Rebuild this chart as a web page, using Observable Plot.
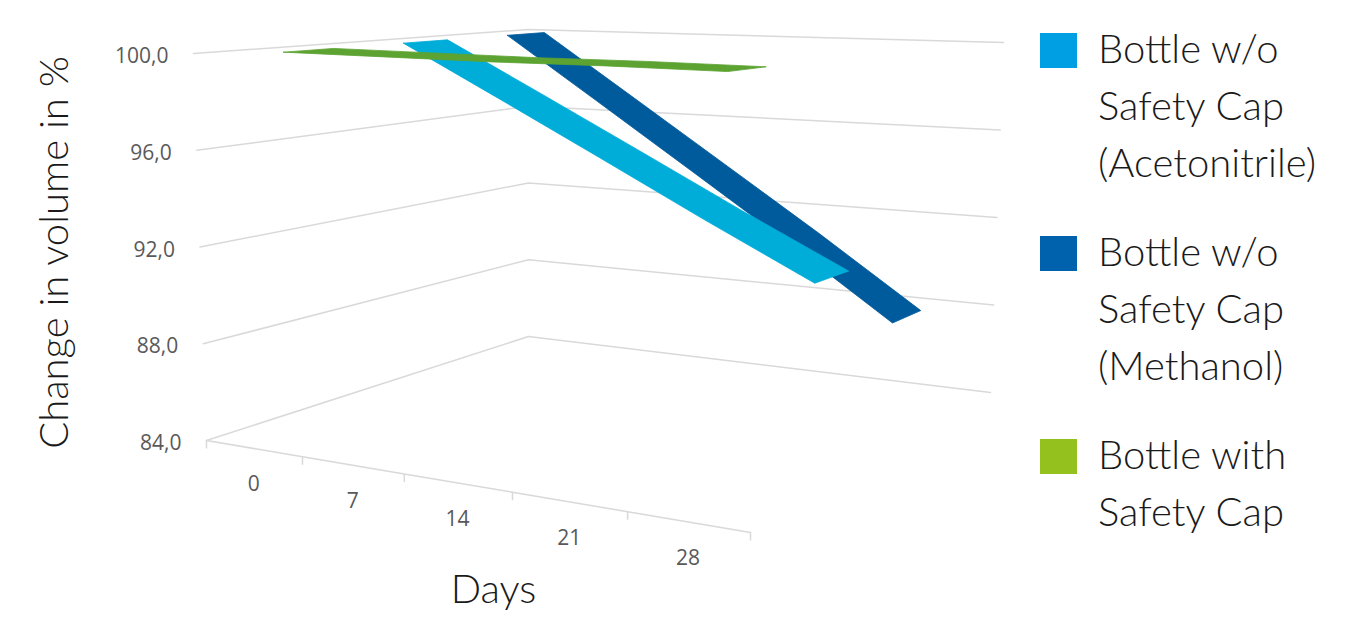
<!DOCTYPE html>
<html>
<head>
<meta charset="utf-8">
<script src="https://cdn.jsdelivr.net/npm/d3@7"></script>
<script src="https://cdn.jsdelivr.net/npm/@observablehq/plot@0.6"></script>
<style>
  html, body { margin: 0; padding: 0; background: #fff; }
  #wrap { position: relative; width: 1365px; height: 634px; overflow: hidden; }
  #chart { position: absolute; left: 0; top: 0; }
  #legend { position: absolute; left: 1040px; top: 20px; font-family: Lato, "Open Sans", sans-serif; font-weight: 300; color: #1a1a1a; }
  .item { display: flex; align-items: flex-start; margin-bottom: 32px; }
  .sw { width: 37px; height: 35px; margin-top: 13px; margin-right: 21px; flex: none; }
  .lbl { font-size: 40px; line-height: 57px; white-space: nowrap; }
</style>
</head>
<body>
<div id="wrap">
  <div id="chart"></div>
  <div id="legend"></div>
</div>
<script>
// ---- data ----
const days = [0, 7, 14, 21, 28];
const seriesNames = [
  "Bottle w/o Safety Cap (Acetonitrile)",
  "Bottle w/o Safety Cap (Methanol)",
  "Bottle with Safety Cap"
];
const acetonitrile = [100.0, 97.7, 95.4, 93.1, 90.9];
const methanol = [100.0, 97.0, 94.0, 91.0, 87.9];
const withCap = [100.0, 99.95, 99.9, 99.9, 99.85];
const yTicks = [84, 88, 92, 96, 100];
const legendLines = [
  ["Bottle w/o", "Safety Cap", "(Acetonitrile)"],
  ["Bottle w/o", "Safety Cap", "(Methanol)"],
  ["Bottle with", "Safety Cap"]
];
const ribbonColors = ["#00acd8", "#005b9c", "#5ca332"];
const legendColors = ["#009fe3", "#0062ad", "#95c11f"];

// ---- 3D frame (projection of the Excel-style 3D box) ----
const W = 1020, H = 634;
const vMin = 84, vMax = 100;
const box = {
  c000: [206, 440], c100: [750, 532], c010: [528, 336], c110: [990, 392],
  c001: [193, 53],  c101: [761, 73],  c011: [528, 29],  c111: [1003, 42]
};
const K = 0.857; // perspective foreshortening along category axis
const depthSlots = [[0.491, 0.626], [0.809, 0.922], [0.124, 0.277]]; // acetonitrile, methanol, with cap

const lerp = (a, b, s) => [a[0] + (b[0] - a[0]) * s, a[1] + (b[1] - a[1]) * s];
function proj(t, w, h) {
  const f0 = lerp(lerp(box.c000, box.c100, t), lerp(box.c010, box.c110, t), w);
  const f1 = lerp(lerp(box.c001, box.c101, t), lerp(box.c011, box.c111, t), w);
  return lerp(f0, f1, h);
}
const warp = u => (u * K) / (1 + (K - 1) * u);
const hOf = v => (v - vMin) / (vMax - vMin);
const n = days.length;
const catT = i => warp((i + 0.5) / n);
const edgeT = i => warp(i / n);

// gridlines: left wall + back wall
const grid = [];
yTicks.forEach(v => {
  const h = hOf(v);
  [[0, 0], [0, 1], [1, 1]].forEach(([t, w], k) => {
    const [x, y] = proj(t, w, h);
    grid.push({v, k, x, y});
  });
});
// front floor edge
const axisLine = d3.range(0, n + 1).map(i => {
  const [x, y] = proj(edgeT(i), 0, 0);
  return {x, y};
});
const axisTicks = axisLine.map(p => ({x1: p.x, y1: p.y, x2: p.x, y2: p.y + 8}));
// category labels
const catLabels = days.map((d, i) => {
  const [x, y] = proj(catT(i), 0, 0);
  return {x, y, label: String(d)};
});
// value labels
const valLabels = yTicks.map(v => {
  const [x, y] = proj(0, 0, hOf(v));
  return {x, y, label: v.toFixed(1).replace(".", ",")};
});
// ribbons
const seriesValues = [acetonitrile, methanol, withCap];
function ribbon(si) {
  const vals = seriesValues[si];
  const [wf, wb] = depthSlots[si];
  const front = vals.map((v, i) => proj(catT(i), wf, hOf(v)));
  const back = vals.map((v, i) => proj(catT(i), wb, hOf(v))).reverse();
  const pts = front.concat(back);
  pts.push(pts[0]);
  return pts.map(([x, y], k) => ({series: seriesNames[si], k, x, y}));
}
const ribbonOrder = [1, 0, 2]; // back to front

const gridColor = "#d9d9d9";
const labelFont = "'Open Sans', 'Noto Sans', sans-serif";
const titleFont = "Lato, 'Open Sans', sans-serif";

const marks = [
  Plot.line(grid, {x: "x", y: "y", z: "v", stroke: gridColor, strokeWidth: 1.5}),
  Plot.line(axisLine, {x: "x", y: "y", stroke: gridColor, strokeWidth: 1.5}),
  Plot.link(axisTicks, {x1: "x1", y1: "y1", x2: "x2", y2: "y2", stroke: gridColor, strokeWidth: 1.5}),
  ...ribbonOrder.map(si => Plot.line(ribbon(si), {x: "x", y: "y", fill: ribbonColors[si], stroke: ribbonColors[si], strokeWidth: 0.8, curve: "linear"})),
  Plot.text(valLabels, {x: "x", y: "y", text: "label", textAnchor: "end", dx: -25, dy: 3, fontSize: 21, fill: "#595959", fontFamily: labelFont}),
  Plot.text(catLabels, {x: "x", y: "y", text: "label", textAnchor: "middle", dy: 36, fontSize: 21, fill: "#595959", fontFamily: labelFont}),
  Plot.text(["Change in volume in %"], {frameAnchor: "left", textAnchor: "middle", lineAnchor: "middle", dx: 55, dy: -65, rotate: -90, fontSize: 40, fontWeight: 300, fill: "#1a1a1a", fontFamily: titleFont}),
  Plot.text(["Days"], {frameAnchor: "bottom-left", textAnchor: "middle", lineAnchor: "middle", dx: 493, dy: -44, fontSize: 40, fontWeight: 300, fill: "#1a1a1a", fontFamily: titleFont})
];

const chart = Plot.plot({
  width: W,
  height: H,
  margin: 0,
  x: {domain: [0, W], range: [0, W], axis: null},
  y: {domain: [0, H], range: [0, H], axis: null},
  style: {background: "transparent", overflow: "visible"},
  marks
});
document.getElementById("chart").appendChild(chart);

// legend
const legend = document.getElementById("legend");
legendLines.forEach((lines, i) => {
  const item = document.createElement("div");
  item.className = "item";
  const sw = document.createElement("div");
  sw.className = "sw";
  sw.style.background = legendColors[i];
  const lbl = document.createElement("div");
  lbl.className = "lbl";
  lbl.innerHTML = lines.join("<br>");
  item.appendChild(sw);
  item.appendChild(lbl);
  legend.appendChild(item);
});
</script>
</body>
</html>
